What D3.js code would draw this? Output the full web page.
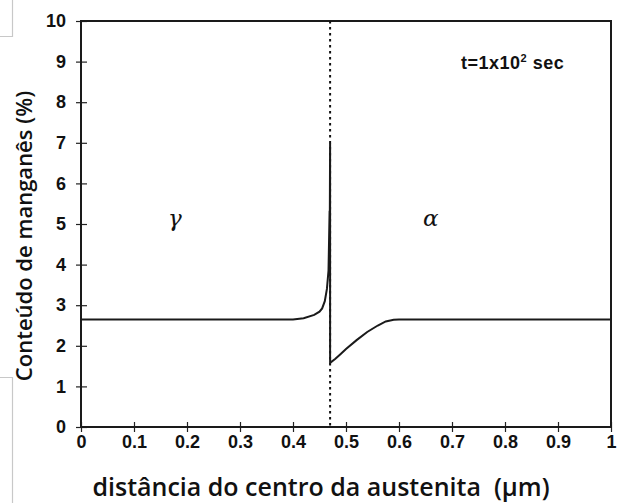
<!DOCTYPE html>
<html>
<head>
<meta charset="utf-8">
<script src="https://cdn.jsdelivr.net/npm/d3@7"></script>
<style>
  html, body { margin: 0; padding: 0; background: #fff; }
  svg { display: block; }
  .title { white-space: pre; }
</style>
</head>
<body>
<svg id="chart" width="621" height="503"></svg>
<script>
// Manganese profile across the austenite / ferrite interface
const distance = [0, 0.10, 0.20, 0.30, 0.40, 0.42, 0.44, 0.45, 0.455, 0.46, 0.464, 0.467, 0.469, 0.4695, 0.47,
                  0.47, 0.48, 0.49, 0.50, 0.52, 0.54, 0.56, 0.575, 0.59, 0.60, 0.70, 0.80, 0.90, 1.0];
const manganese = [2.65, 2.65, 2.65, 2.65, 2.65, 2.68, 2.76, 2.84, 2.92, 3.1, 3.4, 3.85, 5.3, 5.3, 7.0,
                   1.58, 1.68, 1.8, 1.92, 2.14, 2.34, 2.5, 2.6, 2.64, 2.65, 2.65, 2.65, 2.65, 2.65];
const interfacePos = 0.47;
const xTicks = [0, 0.1, 0.2, 0.3, 0.4, 0.5, 0.6, 0.7, 0.8, 0.9, 1];
const yTicks = [0, 1, 2, 3, 4, 5, 6, 7, 8, 9, 10];
const xTickLabels = ["0", "0.1", "0.2", "0.3", "0.4", "0.5", "0.6", "0.7", "0.8", "0.9", "1"];
const phaseLabels = [{ name: "γ", x: 0.177 }, { name: "α", x: 0.66 }];

const svg = d3.select("#chart");
const plotLeft = 81, plotRight = 611, plotTop = 21, plotBottom = 427;

const x = d3.scaleLinear().domain([0, 1]).range([plotLeft, plotRight]);
const y = d3.scaleLinear().domain([0, 10]).range([plotBottom, plotTop]);

// faint panel edges at the left margin
svg.append("path")
  .attr("d", "M0,36.5 H12.5 V0")
  .attr("fill", "none").attr("stroke", "#c8c8c8").attr("stroke-width", 1.2);
svg.append("path")
  .attr("d", "M0,377.5 H12.5 V503")
  .attr("fill", "none").attr("stroke", "#c8c8c8").attr("stroke-width", 1.2);

const tickFont = "'Liberation Sans', Arial, sans-serif";

// axes
const xAxis = d3.axisBottom(x).tickValues(xTicks).tickFormat((d, i) => xTickLabels[i])
  .tickSizeInner(5).tickSizeOuter(0).tickPadding(3);
const gx = svg.append("g").attr("transform", `translate(0,${plotBottom})`).call(xAxis);
gx.select(".domain").remove();
gx.selectAll(".tick line").attr("y1", -5).attr("y2", 5).attr("stroke", "#222").attr("stroke-width", 1.2);
gx.selectAll(".tick text").attr("font-family", tickFont).attr("font-weight", "bold")
  .attr("font-size", 18).attr("fill", "#111");

const yAxis = d3.axisLeft(y).tickValues(yTicks).tickFormat(d3.format("d"))
  .tickSizeInner(5).tickSizeOuter(0).tickPadding(10);
const gy = svg.append("g").attr("transform", `translate(${plotLeft},0)`).call(yAxis);
gy.select(".domain").remove();
gy.selectAll(".tick line").attr("x1", -5).attr("x2", 6).attr("stroke", "#222").attr("stroke-width", 1.2);
gy.selectAll(".tick text").attr("font-family", tickFont).attr("font-weight", "bold")
  .attr("font-size", 18).attr("fill", "#111");

// plot frame
svg.append("rect")
  .attr("x", plotLeft).attr("y", plotTop).attr("width", plotRight - plotLeft).attr("height", plotBottom - plotTop)
  .attr("fill", "none").attr("stroke", "#1a1a1a").attr("stroke-width", 2);

// interface position
svg.append("line")
  .attr("x1", x(interfacePos)).attr("x2", x(interfacePos))
  .attr("y1", plotTop).attr("y2", plotBottom)
  .attr("stroke", "#111").attr("stroke-width", 2).attr("stroke-dasharray", "2.5,3.5");

// concentration profile
const line = d3.line().x((d, i) => x(distance[i])).y(d => y(d));
svg.append("path")
  .attr("d", line(manganese))
  .attr("fill", "none").attr("stroke", "#1a1a1a").attr("stroke-width", 2)
  .attr("stroke-linejoin", "miter");

// phase labels
svg.selectAll(".phase").data(phaseLabels).enter().append("text")
  .attr("class", "phase")
  .attr("x", d => x(d.x)).attr("y", y(4.95))
  .attr("text-anchor", "middle")
  .attr("font-family", "'DejaVu Serif', 'Liberation Serif', serif")
  .attr("font-style", "italic").attr("font-size", 23).attr("fill", "#111")
  .text(d => d.name);

// time annotation
const ann = svg.append("text")
  .attr("x", 461).attr("y", 69)
  .attr("font-family", tickFont).attr("font-weight", "bold")
  .attr("font-size", 18).attr("letter-spacing", 0.5).attr("fill", "#111");
ann.append("tspan").text("t=1x10");
ann.append("tspan").attr("font-size", 11).attr("dy", -7).text("2");
ann.append("tspan").attr("dy", 7).text(" sec");

// axis titles
const titleFont = "'Open Sans', 'Noto Sans', sans-serif";
svg.append("text")
  .attr("class", "title")
  .attr("x", 321).attr("y", 496)
  .attr("text-anchor", "middle")
  .attr("font-family", titleFont).attr("font-weight", 600)
  .attr("font-size", 25).attr("fill", "#111")
  .text("distância do centro da austenita  (µm)");

svg.append("text")
  .attr("class", "title")
  .attr("transform", "translate(32,236) rotate(-90)")
  .attr("text-anchor", "middle")
  .attr("font-family", titleFont).attr("font-weight", 600)
  .attr("font-size", 22).attr("fill", "#111")
  .text("Conteúdo de manganês (%)");
</script>
</body>
</html>
